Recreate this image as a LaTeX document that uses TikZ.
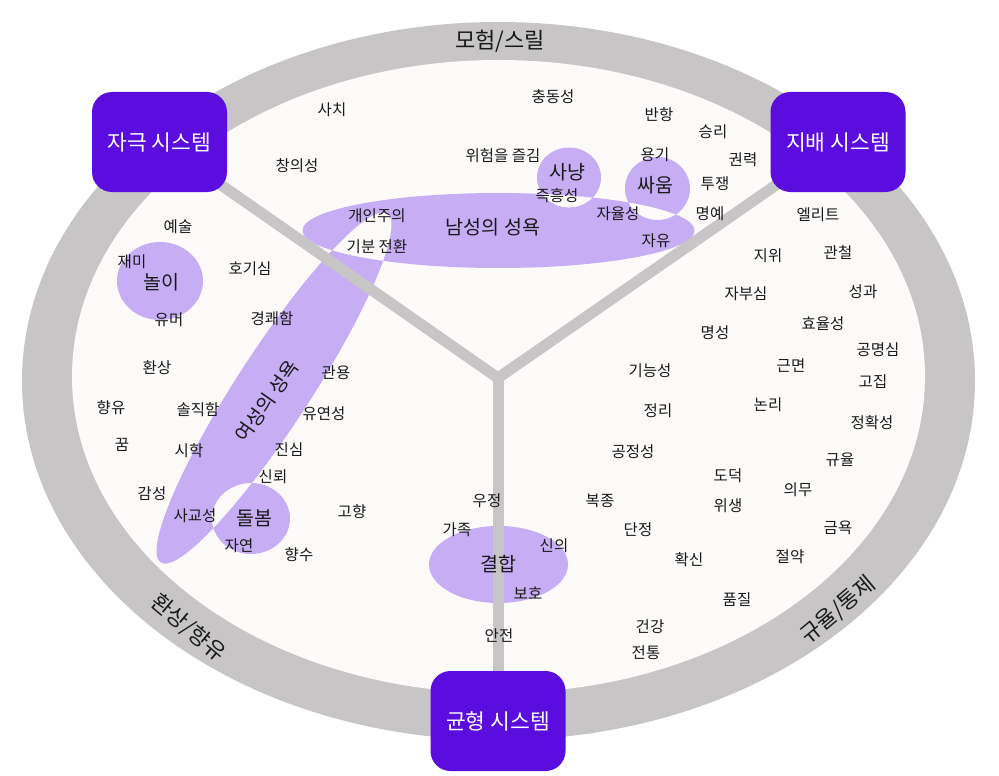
\documentclass[tikz,border=0pt]{standalone}
\usepackage{fontspec}
\setmainfont{Noto Sans CJK KR}
\usetikzlibrary{backgrounds}
\definecolor{ringgray}{HTML}{C7C5C6}
\definecolor{paper}{HTML}{FCFBFA}
\definecolor{lilac}{HTML}{C6ADF4}
\definecolor{sysviolet}{HTML}{5B0CDF}
\begin{document}
\begin{tikzpicture}[x=1pt,y=-1pt,
  lbl/.style={font=\fontsize{15.5}{18}\selectfont, text=black!90, inner sep=0pt},
  mid/.style={font=\fontsize{19.5}{22}\selectfont, text=black!90, inner sep=0pt},
  ringlbl/.style={font=\fontsize{22}{24}\selectfont, text=black!90, inner sep=0pt},
  sysbox/.style={fill=sysviolet, rounded corners=20pt, minimum width=135pt, minimum height=100pt,
    text=white, font=\fontsize{21.5}{24}\selectfont, inner sep=0pt},
  bar/.style={draw=ringgray, line width=11pt}]
	\useasboundingbox (0,0) rectangle (999,776);

	% systems
	\coordinate (MID) at (498,378);
	\node[sysbox] (JA) at (159.5,142) {자극 시스템};
	\node[sysbox] (JB) at (838,142) {지배 시스템};
	\node[sysbox] (GY) at (498,721) {균형 시스템};

	\begin{scope}[on background layer]
	% ring and inner field
	\fill[ringgray] (498.5,381) ellipse [x radius=476.5, y radius=359];
	\fill[paper] (498.5,376.5) ellipse [x radius=426.5, y radius=316.5];
	% motive areas, overlaps left blank
	\fill[lilac, even odd rule] (498.5,230.5) ellipse [x radius=196, y radius=37.5]
	    (569,177.5) ellipse [x radius=32, y radius=30]
	    (657.5,188.5) ellipse [x radius=32.5, y radius=31.5]
	    (251,518.5) ellipse [x radius=39, y radius=35.5]
	    [rotate around={57:(274,388)}] (274,388) ellipse [x radius=208, y radius=37];
	\fill[lilac] (160,281) ellipse [x radius=43, y radius=39];
	\fill[lilac] (498.5,564.5) ellipse [x radius=69.5, y radius=38.5];
	% the three arms
	\draw[bar] (MID)--(JA.center);
	\draw[bar] (MID)--(JB.center);
	\draw[bar] (MID)--(GY.center);
	\end{scope}

	% ring labels
	\node[ringlbl] (RT) at (500,41) {모험/스릴};
	\node[ringlbl, rotate=-40] (RL) at (188,628) {환상/향유};
	\node[ringlbl, rotate=40] (RR) at (838,610) {규율/통제};

	% big labels
	\node[mid] (M1) at (493,227) {남성의 성욕};
	\node[mid, rotate=55] (M2) at (267,401) {여성의 성욕};
	\node[mid] (M3) at (161,282) {놀이};
	\node[mid] (M4) at (567,172) {사냥};
	\node[mid] (M5) at (655,185) {싸움};
	\node[mid] (M6) at (254,518) {돌봄};
	\node[mid] (M7) at (498,564) {결합};

	% stimulus side
	\node[lbl] (A1) at (332,110) {사치};
	\node[lbl] (A2) at (297,166) {창의성};
	\node[lbl] (A3) at (553,97) {충동성};
	\node[lbl] (A4) at (503,156) {위험을 즐김};
	\node[lbl] (A5) at (557,196) {즉흥성};
	\node[lbl] (A6) at (377,216) {개인주의};
	\node[lbl] (A7) at (377,247) {기분 전환};
	\node[lbl] (A8) at (178,227) {예술};
	\node[lbl] (A9) at (132,262) {재미};
	\node[lbl] (A10) at (250,269) {호기심};
	\node[lbl] (A11) at (169,320) {유머};
	\node[lbl] (A12) at (272,319) {경쾌함};
	\node[lbl] (A13) at (157,368) {환상};
	\node[lbl] (A14) at (336,373) {관용};
	\node[lbl] (A15) at (111,408) {향유};
	\node[lbl] (A16) at (198,410) {솔직함};
	\node[lbl] (A17) at (324,414) {유연성};
	\node[lbl] (A18) at (122,445) {꿈};
	\node[lbl] (A19) at (189,451) {시학};
	\node[lbl] (A20) at (289,450) {진심};
	\node[lbl] (A21) at (273,477) {신뢰};
	\node[lbl] (A22) at (152,494) {감성};
	\node[lbl] (A23) at (195,516) {사교성};
	\node[lbl] (A24) at (352,512) {고향};
	\node[lbl] (A25) at (239,546) {자연};
	\node[lbl] (A26) at (299,555) {향수};

	% dominance side
	\node[lbl] (B1) at (659,115) {반항};
	\node[lbl] (B2) at (713,132) {승리};
	\node[lbl] (B3) at (655,155) {용기};
	\node[lbl] (B4) at (743,160) {권력};
	\node[lbl] (B5) at (715,184) {투쟁};
	\node[lbl] (B6) at (618,214) {자율성};
	\node[lbl] (B7) at (710,214) {명예};
	\node[lbl] (B8) at (656,241) {자유};
	\node[lbl] (B9) at (818,215) {엘리트};
	\node[lbl] (B10) at (768,256) {지위};
	\node[lbl] (B11) at (838,253) {관철};
	\node[lbl] (B12) at (746,294) {자부심};
	\node[lbl] (B13) at (863,292) {성과};
	\node[lbl] (B14) at (715,333) {명성};
	\node[lbl] (B15) at (823,324) {효율성};
	\node[lbl] (B16) at (878,350) {공명심};
	\node[lbl] (B17) at (791,366) {근면};
	\node[lbl] (B18) at (873,382) {고집};
	\node[lbl] (B19) at (768,405) {논리};
	\node[lbl] (B20) at (872,423) {정확성};
	\node[lbl] (B21) at (840,460) {규율};
	\node[lbl] (B22) at (798,490) {의무};
	\node[lbl] (B23) at (838,528) {금욕};
	\node[lbl] (B24) at (790,557) {절약};

	% balance side
	\node[lbl] (C1) at (650,371) {기능성};
	\node[lbl] (C2) at (658,411) {정리};
	\node[lbl] (C3) at (633,452) {공정성};
	\node[lbl] (C4) at (728,476) {도덕};
	\node[lbl] (C5) at (600,501) {복종};
	\node[lbl] (C6) at (728,506) {위생};
	\node[lbl] (C7) at (638,530) {단정};
	\node[lbl] (C8) at (689,560) {확신};
	\node[lbl] (C9) at (737,600) {품질};
	\node[lbl] (C10) at (650,627) {건강};
	\node[lbl] (C11) at (646,653) {전통};
	\node[lbl] (C12) at (487,501) {우정};
	\node[lbl] (C13) at (457,530) {가족};
	\node[lbl] (C14) at (554,546) {신의};
	\node[lbl] (C15) at (528,593) {보호};
	\node[lbl] (C16) at (499,636) {안전};
\end{tikzpicture}
\end{document}
